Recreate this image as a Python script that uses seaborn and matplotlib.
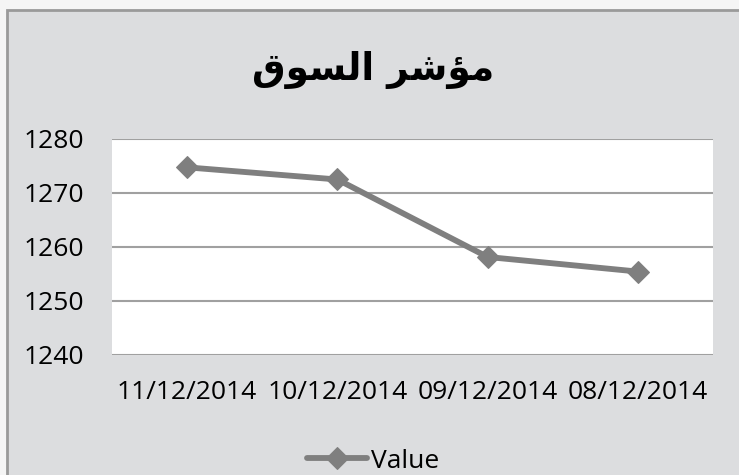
#!/usr/bin/env python3

# Market index line chart (Excel style)

import matplotlib
matplotlib.use("Agg")
import matplotlib.pyplot as plt
import matplotlib.patches as mpatches
import seaborn as sns
import pandas as pd

# shaped Arabic title in visual order: "مؤشر السوق"
title = "\uFED5\uFEEE\uFEB4\uFEDF\uFE8D \uFEAE\uFEB7\uFE86\uFEE3"
dates = ["11/12/2014", "10/12/2014", "09/12/2014", "08/12/2014"]
values = [1274.75, 1272.5, 1258.15, 1255.45]
yticks = [1240, 1250, 1260, 1270, 1280]
series_name = "Value"

sns.set_style("white")
plt.rcParams["font.family"] = ["Open Sans", "DejaVu Sans"]
plt.rcParams["text.color"] = "black"

df = pd.DataFrame({"Date": dates, "Value": values, "Series": series_name})


def main():
    fig = plt.figure(figsize=(7.39, 4.75), dpi=100)
    fig.patch.set_facecolor("#f5f5f5")
    # chart area panel with gray border
    fig.patches.append(mpatches.Rectangle(
        (7 / 739, -0.05), 1.05, 1 - 10 / 475 + 0.05,
        transform=fig.transFigure, facecolor="#dcdddf",
        edgecolor="#9a9a9a", linewidth=2, zorder=-10))

    ax = fig.add_axes([112 / 739, 1 - 355 / 475, 601 / 739, 216 / 475])
    ax.set_facecolor("white")

    sns.lineplot(data=df, x="Date", y="Value", hue="Series", sort=False,
                 palette=["#7f7f7f"], marker="D", markersize=11.5,
                 markeredgecolor="#7f7f7f", linewidth=4.2, ax=ax, zorder=3)

    ax.set_ylim(yticks[0], yticks[-1])
    ax.set_yticks(yticks)
    ax.set_xlim(-0.5, len(dates) - 0.5)
    ax.grid(axis="y", color="#a0a0a0", linewidth=1.5)
    ax.grid(axis="x", visible=False)
    for s in ax.spines.values():
        s.set_visible(False)
    ax.tick_params(axis="both", length=0, labelsize=19, colors="black")
    ax.tick_params(axis="y", pad=20)
    ax.tick_params(axis="x", pad=18)
    ax.set_xlabel("")
    ax.set_ylabel("")

    fig.text(0.505, 1 - 70 / 475, title, ha="center", va="center",
             fontsize=27, fontweight="bold", family=["DejaVu Sans"],
             color="black")

    sns.move_legend(ax, "center", bbox_to_anchor=(0.505, 1 - 461 / 475),
                    bbox_transform=fig.transFigure, title=None, frameon=False,
                    fontsize=19, handlelength=2.3, handletextpad=0.15,
                    borderpad=0)

    fig.savefig("out.png", dpi=100, facecolor=fig.get_facecolor())


if __name__ == "__main__":
    main()
